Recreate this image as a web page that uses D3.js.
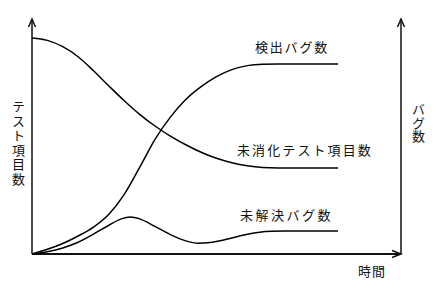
<html>
  <head>
    <meta charset="utf-8">
    <script src="https://cdnjs.cloudflare.com/ajax/libs/d3/7.8.5/d3.min.js"></script>
  </head>
  <body>
    <svg id="chart"></svg>

    <style>
      body {
        margin: 0;
        background: #fff;
      }

      #chart {
        display: block;
        font-family: 'Noto Sans CJK JP', sans-serif;
      }

      .curve {
        fill: none;
        stroke: #000;
        stroke-width: 1.5;
      }

      .axis-line {
        stroke: #111;
        stroke-width: 1.5;
        fill: none;
      }

      .label {
        font-size: 13px;
        fill: #111;
      }

      .vertical {
        writing-mode: vertical-rl;
        text-orientation: upright;
      }
    </style>

    <script>

      // Data: [time, value]
      const testItems = [
        [0, 92.3], [5, 91.3], [10, 88.6], [15, 84.3], [20, 78.3], [25, 71.8],
        [30, 65.5], [35, 59.7], [40, 54.7], [45, 50.4], [50, 46.7], [55, 43.5],
        [60, 40.9], [65, 39.0], [70, 37.7], [75, 37.0], [80, 36.8], [99.5, 36.8]
      ];

      const detectedBugs = [
        [0, 0], [5, 2.0], [10, 4.5], [15, 7.7], [20, 11.5], [25, 17],
        [30, 25.5], [35, 37], [40, 49], [45, 58.5], [50, 66], [55, 71.5],
        [60, 75.8], [65, 78.8], [70, 80.5], [75, 81.1], [80, 81.2], [99.5, 81.2]
      ];

      const unresolvedBugs = [
        [0, 0], [5, 1.0], [10, 2.6], [15, 5.0], [20, 8.5], [25, 12.3],
        [29, 15.0], [32, 15.8], [35, 15.0], [40, 11.8], [45, 8.3], [50, 5.6],
        [54, 4.6], [58, 4.9], [62, 5.9], [66, 7.2], [70, 8.4], [74, 9.3],
        [78, 9.7], [82, 9.8], [99.5, 9.8]
      ];

      const curveLabels = ['検出バグ数', '未消化テスト項目数', '未解決バグ数'];
      const xTitle = '時間';
      const yLeftTitle = 'テスト項目数';
      const yRightTitle = 'バグ数';

      const width = 438;
      const height = 304;

      const svg = d3.select('#chart')
        .attr('width', width)
        .attr('height', height);

      // Scales
      const x = d3.scaleLinear().domain([0, 120]).range([32, 401]);
      const y = d3.scaleLinear().domain([0, 100]).range([254, 20]);

      const line = d3.line()
        .x(function(d) { return x(d[0]); })
        .y(function(d) { return y(d[1]); })
        .curve(d3.curveMonotoneX);

      // Axes
      const axes = svg.append('g');

      axes.append('line')
        .attr('class', 'axis-line')
        .attr('x1', x(0)).attr('y1', y(0))
        .attr('x2', x(0)).attr('y2', y(100) - 1);

      axes.append('line')
        .attr('class', 'axis-line')
        .attr('x1', x(120)).attr('y1', y(0))
        .attr('x2', x(120)).attr('y2', y(100) - 1);

      axes.append('line')
        .attr('class', 'axis-line')
        .style('stroke-width', 2)
        .attr('x1', x(0)).attr('y1', y(0))
        .attr('x2', x(120)).attr('y2', y(0));

      // Arrow heads
      function arrowUp(px, py) {
        axes.append('path')
          .attr('class', 'axis-line')
          .attr('d', 'M' + (px - 3.5) + ',' + (py + 8) + 'L' + px + ',' + py + 'L' + (px + 3.5) + ',' + (py + 8));
      }
      arrowUp(x(0), y(100) - 1);
      arrowUp(x(120), y(100) - 1);

      axes.append('path')
        .attr('class', 'axis-line')
        .attr('d', 'M' + (x(120) - 9) + ',' + (y(0) - 3.5) + 'L' + x(120) + ',' + y(0) + 'L' + (x(120) - 9) + ',' + (y(0) + 3.5));

      // Curves
      svg.append('g')
        .selectAll('path')
        .data([testItems, detectedBugs, unresolvedBugs])
        .enter().append('path')
        .attr('class', 'curve')
        .attr('d', line);

      // Curve labels
      const labelPos = [
        {x: 255, y: 52, ls: 1.8},
        {x: 237, y: 155, ls: 2.1},
        {x: 240, y: 220, ls: 2.5}
      ];

      svg.append('g')
        .selectAll('text')
        .data(curveLabels)
        .enter().append('text')
        .attr('class', 'label')
        .attr('x', function(d, i) { return labelPos[i].x; })
        .attr('y', function(d, i) { return labelPos[i].y; })
        .style('letter-spacing', function(d, i) { return labelPos[i].ls + 'px'; })
        .text(function(d) { return d; });

      svg.append('text')
        .attr('class', 'label')
        .attr('x', 358)
        .attr('y', 276)
        .style('letter-spacing', '1px')
        .text(xTitle);

      // Vertical titles, one character each, set upright
      function verticalText(str, cx, top, step) {
        svg.append('g')
          .selectAll('text')
          .data([...str])
          .enter().append('text')
          .attr('class', 'label vertical')
          .attr('x', cx)
          .attr('y', function(d, i) { return top + i * step; })
          .text(function(d) { return d; });
      }

      verticalText(yLeftTitle, 18.5, 100, 14.5);
      verticalText(yRightTitle, 418.5, 103, 13.5);

    </script>
  </body>
</html>
